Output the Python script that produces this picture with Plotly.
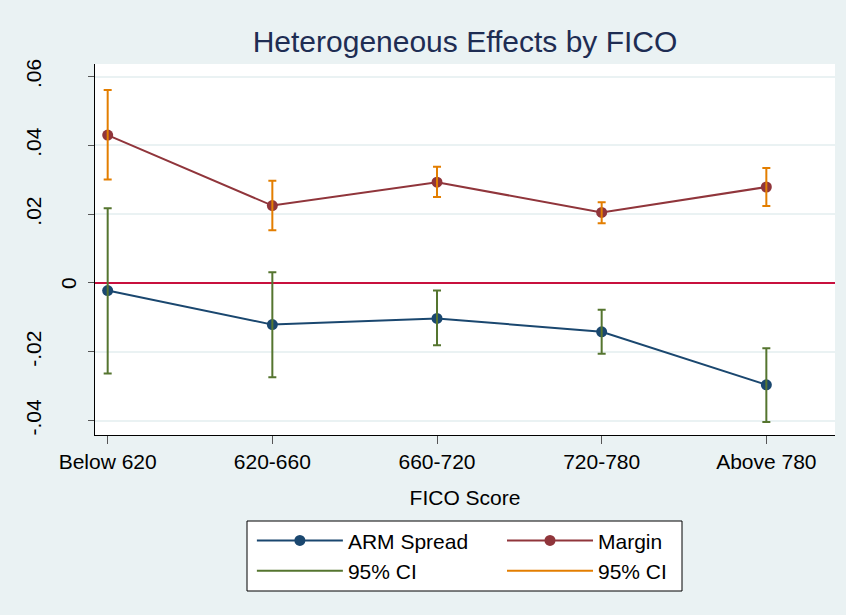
import plotly.graph_objects as go

categories = ["Below 620", "620-660", "660-720", "720-780", "Above 780"]

arm_spread = [-0.0022, -0.0121, -0.0103, -0.0142, -0.0296]
arm_ci_hi = [0.0217, 0.0031, -0.0022, -0.0078, -0.0190]
arm_ci_lo = [-0.0263, -0.0274, -0.0181, -0.0206, -0.0404]

margin = [0.0430, 0.0225, 0.0293, 0.0205, 0.0279]
margin_ci_hi = [0.0561, 0.0297, 0.0338, 0.0235, 0.0334]
margin_ci_lo = [0.0301, 0.0153, 0.0250, 0.0174, 0.0224]

y_ticks = [-0.04, -0.02, 0, 0.02, 0.04, 0.06]
y_tick_text = ["-.04", "-.02", "", ".02", ".04", ".06"]
zero_label = "0"

NAVY = "#1a476f"
MAROON = "#90353b"
GREEN = "#55752f"
ORANGE = "#e37e00"
ZERO = "#c8103e"
BG = "#eaf2f3"
FONT = "Liberation Sans, Arial, sans-serif"

xs = list(range(len(categories)))

fig = go.Figure()

fig.add_trace(go.Scatter(
    x=xs, y=arm_spread, mode="lines+markers", name="ARM Spread",
    line=dict(color=NAVY, width=2), marker=dict(color=NAVY, size=11),
    legend="legend"))
fig.add_trace(go.Scatter(
    x=xs, y=margin, mode="lines+markers", name="Margin",
    line=dict(color=MAROON, width=2), marker=dict(color=MAROON, size=11),
    legend="legend2"))

# confidence intervals drawn over the points
fig.add_trace(go.Scatter(
    x=xs, y=arm_spread, mode="markers", showlegend=False, hoverinfo="skip",
    marker=dict(size=1, color="rgba(0,0,0,0)"),
    error_y=dict(type="data", symmetric=False,
                 array=[h - v for h, v in zip(arm_ci_hi, arm_spread)],
                 arrayminus=[v - l for l, v in zip(arm_ci_lo, arm_spread)],
                 color=GREEN, thickness=2, width=4)))
fig.add_trace(go.Scatter(
    x=xs, y=margin, mode="markers", showlegend=False, hoverinfo="skip",
    marker=dict(size=1, color="rgba(0,0,0,0)"),
    error_y=dict(type="data", symmetric=False,
                 array=[h - v for h, v in zip(margin_ci_hi, margin)],
                 arrayminus=[v - l for l, v in zip(margin_ci_lo, margin)],
                 color=ORANGE, thickness=2, width=4)))

# legend keys for the CIs
fig.add_trace(go.Scatter(x=[None], y=[None], mode="lines", name="95% CI",
                         line=dict(color=GREEN, width=2), legend="legend"))
fig.add_trace(go.Scatter(x=[None], y=[None], mode="lines", name="95% CI",
                         line=dict(color=ORANGE, width=2), legend="legend2"))

legend_common = dict(
    orientation="v", xanchor="left", yanchor="top",
    bgcolor="rgba(0,0,0,0)", borderwidth=0,
    font=dict(family=FONT, size=21, color="black"),
    itemwidth=86, tracegroupgap=0,
)

fig.update_layout(
    width=846, height=615,
    margin=dict(l=95, r=11, t=64, b=180),
    paper_bgcolor=BG, plot_bgcolor="white",
    font=dict(family=FONT, size=21, color="black"),
    title=dict(text="Heterogeneous Effects by FICO", x=0.5, xref="paper",
               xanchor="center", y=1 - 41 / 615, yref="container", yanchor="middle",
               font=dict(size=30, color="#1e2d53")),
    showlegend=True,
    legend=dict(x=0.212, y=-0.230, **legend_common),
    legend2=dict(x=0.550, y=-0.230, **legend_common),
    xaxis=dict(
        range=[-0.077, 4.417], tickmode="array", tickvals=xs, ticktext=categories,
        showgrid=False, zeroline=False, showline=True, linecolor="black", linewidth=1,
        ticks="outside", ticklen=8, tickcolor="#555555", tickwidth=1,
        title=dict(text="FICO Score", font=dict(size=21), standoff=18),
        tickfont=dict(size=21),
    ),
    yaxis=dict(
        range=[-0.04419, 0.06366], tickmode="array", tickvals=y_ticks, ticktext=y_tick_text,
        tickangle=-90, showgrid=True, gridcolor=BG, gridwidth=2,
        zeroline=True, zerolinecolor=ZERO, zerolinewidth=2,
        showline=True, linecolor="black", linewidth=1,
        ticks="outside", ticklen=6, tickcolor="#555555", tickwidth=1,
        tickfont=dict(size=21), ticklabelstandoff=39,
    ),
    annotations=[dict(text=zero_label, textangle=-90, xref="paper", yref="y",
                      x=0, y=0, xanchor="center", yanchor="middle", xshift=-26,
                      showarrow=False, font=dict(family=FONT, size=21, color="black"))],
    shapes=[dict(type="rect", xref="paper", yref="paper",
                 x0=(247 - 95) / 740, x1=(682 - 95) / 740,
                 y0=(435 - 591) / 371, y1=(435 - 521) / 371,
                 fillcolor="white", line=dict(color="black", width=1), layer="above")],
)

fig.write_html("out.html", config={"displayModeBar": False},
               post_script="document.body.style.margin='0px';")
